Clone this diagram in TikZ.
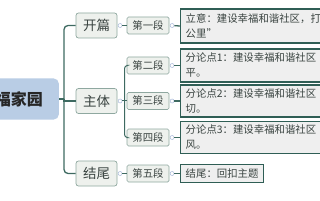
\documentclass[tikz,border=0pt]{standalone}
\usepackage{fontspec}
\setmainfont{Noto Sans CJK SC}
\usetikzlibrary{positioning, calc}
\definecolor{rootfill}{HTML}{B9CDE5}
\definecolor{boxfill}{HTML}{EEF1ED}
\definecolor{boxline}{HTML}{8FA8A0}
\definecolor{notefill}{HTML}{EFEFEF}
\definecolor{noteline}{HTML}{2F5E55}
\definecolor{linkteal}{HTML}{3E6A61}
\definecolor{knobblue}{HTML}{A9B9DA}
\definecolor{textgray}{HTML}{3A4441}

\begin{document}
\begin{tikzpicture}[x=1pt, y=-1pt, every node/.style={font=\fontsize{10.4}{15}\selectfont, text=textgray}]
    \fill[white] (0,0) rectangle (320,200);
    \useasboundingbox (0,0) rectangle (320,200);
    \tikzset{
        rootbox/.style={fill=rootfill, rounded corners=5pt, inner xsep=16pt, minimum height=41pt, font=\fontsize{16}{16}\selectfont\bfseries, text=black!85},
        topic/.style={draw=boxline, fill=boxfill, rounded corners=2.5pt, line width=0.7pt, inner sep=0pt, minimum width=41pt, minimum height=25pt, font=\fontsize{13.5}{14}\selectfont},
        para/.style={draw=boxline, fill=boxfill, rounded corners=1.5pt, line width=0.7pt, inner sep=0pt, minimum width=42pt, minimum height=17pt},
        note/.style={draw=noteline, fill=notefill, line width=1.4pt, anchor=west, inner xsep=5pt, inner ysep=2pt, align=left},
        longnote/.style={note, text width=160pt, minimum height=33pt},
        knob/.style={circle, draw=knobblue, fill=white, line width=0.5pt, inner sep=0pt, minimum size=4pt},
        link/.style={draw=linkteal, line width=1.3pt}
    }

    % Root
    \node[rootbox, anchor=east] (root) at (59,99) {幸福家园};

    % Parts
    \node[topic] (kaipian) at (96.5,25.5) {开篇};
    \node[topic] (zhuti) at (96.5,101) {主体};
    \node[topic] (jiewei) at (96.5,173.5) {结尾};

    % Paragraphs
    \node[para] (duan1) at (148,25.5) {第一段};
    \node[para] (duan2) at (148,65.5) {第二段};
    \node[para] (duan3) at (148,101) {第三段};
    \node[para] (duan4) at (148,137.5) {第四段};
    \node[para] (duan5) at (148,173.5) {第五段};

    % Notes
    \node[longnote, minimum height=34pt] (note1) at (180,26) {立意：建设幸福和谐社区，打\\公里”};
    \node[longnote] (note2) at (180,65.5) {分论点1：建设幸福和谐社区\\平。};
    \node[longnote, minimum height=32pt] (note3) at (180,101) {分论点2：建设幸福和谐社区\\切。};
    \node[longnote, minimum height=32pt] (note4) at (180,137.5) {分论点3：建设幸福和谐社区\\风。};
    \node[note, minimum height=18pt] (note5) at (180,173.5) {结尾：回扣主题};

    % Knobs
    \node[knob, right=0.5pt of kaipian] (k1) {};
    \node[knob, right=0.5pt of zhuti] (k2) {};
    \node[knob, right=0.5pt of jiewei] (k3) {};
    \node[knob, right=0.5pt of duan1] (kd1) {};
    \node[knob, right=0.5pt of duan2] (kd2) {};
    \node[knob, right=0.5pt of duan3] (kd3) {};
    \node[knob, right=0.5pt of duan4] (kd4) {};
    \node[knob, right=0.5pt of duan5] (kd5) {};

    % Connectors
    \coordinate[right=5pt of root.east] (trunk);
    \draw[link] (root.east) -- (trunk);
    \draw[link, rounded corners=4pt] (trunk) |- (kaipian.west);
    \draw[link] (trunk) |- (zhuti.west);
    \draw[link, rounded corners=4pt] (trunk) |- (jiewei.west);
    \draw[link, line width=1pt] (k1) -- (duan1);
    \draw[link, line width=1pt] (k3) -- (duan5);
    \coordinate (fork) at ($(k2.east)!0.5!(duan3.west)$);
    \draw[link, line width=1pt] (k2) -- (duan3);
    \draw[link, line width=1pt, rounded corners=3pt] (duan2.west) -| (fork) |- (duan4.west);
    \draw[link] (kd1) -- (note1.west);
    \draw[link] (kd2) -- (note2.west);
    \draw[link] (kd3) -- (note3.west);
    \draw[link] (kd4) -- (note4.west);
    \draw[link] (kd5) -- (note5.west);
\end{tikzpicture}
\end{document}
